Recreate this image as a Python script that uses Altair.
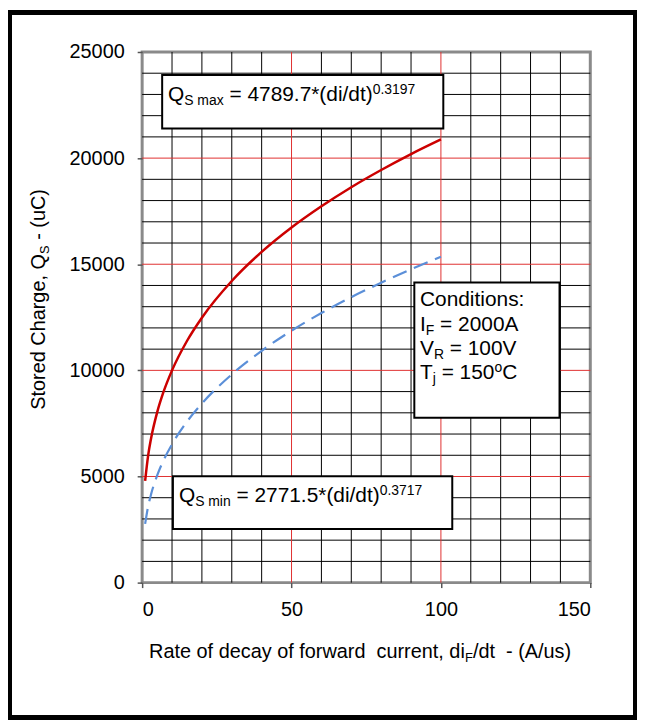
import altair as alt
import pandas as pd

# ---- data ----
rate = [1, 2, 3, 5, 7, 10, 15, 20, 30, 40, 50, 60, 70, 80, 90, 100]
q_max = [4790, 5980, 6805, 8010, 8923, 10000, 11384, 12480, 14210, 15580,
         16730, 17730, 18630, 19440, 20190, 20880]
q_min = [2770, 3590, 4169, 5040, 5713, 6520, 7584, 8440, 9810, 10920,
         11870, 12700, 13450, 14130, 14760, 15350]

x_ticks = [0, 50, 100, 150]
y_ticks = [0, 5000, 10000, 15000, 20000, 25000]
x_minor = [v for v in range(10, 150, 10) if v % 50]
x_major = [50, 100]
y_minor = [v for v in range(1000, 25000, 1000) if v % 5000]
y_major = [5000, 10000, 15000, 20000]

FONT = "Liberation Sans"
W = {' ': 278, '.': 278, ',': 278, ':': 278, '*': 389, '(': 333,
     ')': 333, '/': 278, '-': 333, '=': 584,
     'A': 667, 'C': 722, 'D': 722, 'F': 611, 'I': 278, 'Q': 778, 'R': 722,
     'S': 667, 'T': 611, 'V': 667,
     'a': 556, 'c': 500, 'd': 556, 'e': 556, 'f': 278, 'g': 556, 'h': 556,
     'i': 222, 'j': 222, 'm': 833, 'n': 556, 'o': 556, 'r': 333, 's': 500,
     't': 278, 'u': 556, 'w': 722, 'x': 500, 'y': 500}


def tw(s, size):
    return sum(W.get(c, 556) for c in s) / 1000.0 * size


def rich(pieces, x, y, angle=0, pixel=False):
    layers = []
    off = 0.0
    for text, size, dy in pieces:
        lead = len(text) - len(text.lstrip(' '))
        off += tw(' ' * lead, size)
        core = text.strip(' ')
        trail = len(text) - lead - len(core)
        t = core.replace(' ', '\u00a0')
        df = pd.DataFrame({"x": [x], "y": [y], "t": [t]})
        if pixel:
            enc = dict(x=alt.value(x), y=alt.value(y), text="t:N")
        else:
            enc = dict(x=alt.X("x:Q"), y=alt.Y("y:Q"), text="t:N")
        kw = dict(align="left", baseline="alphabetic", font=FONT,
                  fontSize=size, dx=off, dy=dy, color="black")
        if angle:
            kw["angle"] = angle
        layers.append(alt.Chart(df).mark_text(**kw).encode(**enc))
        off += tw(core, size) + tw(' ' * trail, size)
    return layers


xs = alt.Scale(domain=[0, 150], nice=False, zero=False)
ys = alt.Scale(domain=[0, 25000], nice=False, zero=False)

curves = pd.DataFrame({"rate": rate, "qmax": q_max, "qmin": q_min})

base = alt.Chart(curves)

frame = base.mark_rect(filled=False, stroke="black", strokeWidth=4).encode(
    x=alt.value(-133), x2=alt.value(496), y=alt.value(-40), y2=alt.value(670))

axes = base.mark_point(opacity=0).encode(
    x=alt.X("rate:Q", scale=xs,
            axis=alt.Axis(values=x_ticks, title=None, grid=False, domain=False,
                          tickSize=5, tickColor="#555", tickWidth=1.5,
                          labelFontSize=20, labelFont=FONT, labelColor="black",
                          labelPadding=12, format="d")),
    y=alt.Y("qmax:Q", scale=ys,
            axis=alt.Axis(values=y_ticks, title=None, grid=False, domain=False,
                          tickSize=5, tickColor="#555", tickWidth=1.5,
                          labelFontSize=20, labelFont=FONT, labelColor="black",
                          labelPadding=13, format="d")))

vminor = alt.Chart(pd.DataFrame({"v": x_minor})).mark_rule(
    color="black", strokeWidth=1).encode(x=alt.X("v:Q", scale=xs))
vmajor = alt.Chart(pd.DataFrame({"v": x_major})).mark_rule(
    color="#e03030", strokeWidth=1).encode(x=alt.X("v:Q", scale=xs))
hminor = alt.Chart(pd.DataFrame({"v": y_minor})).mark_rule(
    color="black", strokeWidth=1).encode(y=alt.Y("v:Q", scale=ys))
hmajor = alt.Chart(pd.DataFrame({"v": y_major})).mark_rule(
    color="#e03030", strokeWidth=1).encode(y=alt.Y("v:Q", scale=ys))

line_max = base.mark_line(color="#cc0000", strokeWidth=2.5,
                          interpolate="monotone").encode(
    x=alt.X("rate:Q", scale=xs), y=alt.Y("qmax:Q", scale=ys))
line_min = base.mark_line(color="#5b8fd8", strokeWidth=2.2,
                          strokeDash=[15, 8], interpolate="monotone").encode(
    x=alt.X("rate:Q", scale=xs), y=alt.Y("qmin:Q", scale=ys))

boxes = pd.DataFrame({
    "x1": [6.7, 10.3, 91.1], "x2": [100.8, 103.8, 139.7],
    "y1": [21400, 2530, 7770], "y2": [23920, 5010, 14140]})
box_layer = alt.Chart(boxes).mark_rect(fill="white", stroke="black",
                                       strokeWidth=2).encode(
    x=alt.X("x1:Q", scale=xs), x2="x2:Q",
    y=alt.Y("y1:Q", scale=ys), y2="y2:Q")

texts = []
texts += rich([("Q", 21, 0), ("S max", 14, 4), (" = 4789.7*(di/dt)", 21, 0),
               ("0.3197", 14, -7)], 8.65, 22706)
texts += rich([("Q", 21, 0), ("S min", 14, 4), (" = 2771.5*(di/dt)", 21, 0),
               ("0.3717", 14, -7)], 12.3, 3806)
texts += rich([("Conditions:", 21, 0)], 93.0, 13015)
texts += rich([("I", 21, 0), ("F", 14, 4), (" = 2000A", 21, 0)], 93.0, 11845)
texts += rich([("V", 21, 0), ("R", 14, 4), (" = 100V", 21, 0)], 93.0, 10721)
texts += rich([("T", 21, 0), ("j", 14, 4), (" = 150", 21, 0), ("o", 14, -7),
               ("C", 21, 0)], 93.0, 9597)
texts += rich([("Rate of decay of forward  current, di", 20, 0), ("F", 13, 4),
               ("/dt  - (A/us)", 20, 0)], 7, 609.5, pixel=True)
texts += rich([("Stored Charge, Q", 20, 0), ("S", 13, 4), (" - (uC)", 20, 0)],
              -98, 360, angle=270, pixel=True)

chart = alt.layer(frame, axes, vminor, hminor, vmajor, hmajor, line_min,
                  line_max, box_layer, *texts).properties(
    width=451, height=534, autosize="none",
    padding={"left": 135, "top": 42, "right": 47, "bottom": 138},
    background="white",
).configure_view(stroke="#8a8a8a", strokeWidth=3)

chart.save("out.html", embed_options={"renderer": "svg", "actions": False})
